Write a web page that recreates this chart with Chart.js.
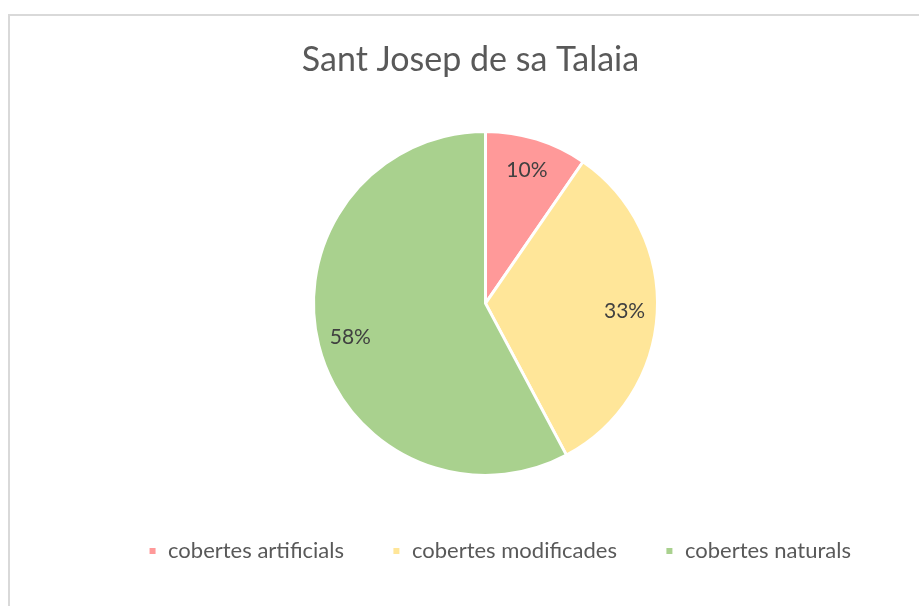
<!DOCTYPE html>
<html>
<head>
<meta charset="utf-8">
<script src="https://cdn.jsdelivr.net/npm/chart.js@4/dist/chart.umd.min.js"></script>
<style>
  html, body { margin: 0; padding: 0; background: #fff; }
  #frame {
    position: absolute; left: 8px; top: 14px; width: 920px; height: 600px;
    border-left: 2px solid #d9d9d9; border-top: 2px solid #d9d9d9;
  }
  #wrap { position: absolute; left: 0; top: 0; width: 919px; height: 606px; }
</style>
</head>
<body>
<div id="frame"></div>
<div id="wrap"><canvas id="pie-chart"></canvas></div>
<script>
// ---------------------- DATA -------------------------
const chartTitle = 'Sant Josep de sa Talaia';
const coverLabels = ['cobertes artificials', 'cobertes modificades', 'cobertes naturals'];
const coverShares = [9.6, 32.6, 57.8];
const sliceColors = ['#FF9999', '#FFE699', '#A9D18E'];

const fontName = 'Lato, "Open Sans", sans-serif';

// percent labels inside each slice (no datalabels plugin available)
const percentLabels = {
      id: 'percentLabels',
      afterDatasetsDraw(chart) {
            const ctx = chart.ctx;
            const meta = chart.getDatasetMeta(0);
            const data = chart.data.datasets[0].data;
            const total = data.reduce((a, b) => a + b, 0);
            ctx.save();
            ctx.font = '21px ' + fontName;
            ctx.fillStyle = '#404040';
            ctx.textAlign = 'center';
            ctx.textBaseline = 'middle';
            meta.data.forEach((arc, i) => {
                  const mid = (arc.startAngle + arc.endAngle) / 2;
                  const r = arc.outerRadius * 0.81;
                  const x = arc.x + Math.cos(mid) * r;
                  const y = arc.y + Math.sin(mid) * r;
                  ctx.fillText(Math.round(data[i] / total * 100) + '%', x, y);
            });
            ctx.restore();
      }
};

// title sits a bit left of the pie, legend a bit right (like the excel original)
const nudgeBoxes = {
      id: 'nudgeBoxes',
      afterLayout(chart) {
            chart.titleBlock.left -= 15;
            chart.titleBlock.right -= 15;
            chart.legend.left += 14;
            chart.legend.right += 14;
      }
};

const ctx = document.getElementById('pie-chart').getContext('2d');

new Chart(ctx, {
      type: 'pie',
      data: {
            labels: coverLabels,
            datasets: [{
                  data: coverShares,
                  backgroundColor: sliceColors,
                  borderColor: '#ffffff',
                  borderWidth: 3,
                  radius: 172
            }]
      },
      options: {
            responsive: true,
            maintainAspectRatio: false,
            animation: false,
            layout: { padding: { left: 52, right: 0, top: 0, bottom: 34 } },
            plugins: {
                  title: {
                        display: true,
                        text: chartTitle,
                        color: '#595959',
                        font: { family: fontName, size: 34, weight: 'normal', lineHeight: 1.2 },
                        padding: { top: 40, bottom: 34 }
                  },
                  legend: {
                        display: true,
                        position: 'bottom',
                        labels: {
                              boxWidth: 9,
                              boxHeight: 9,
                              padding: 48,
                              color: '#595959',
                              font: { family: fontName, size: 22 }
                        }
                  },
                  tooltip: { enabled: false }
            }
      },
      plugins: [percentLabels, nudgeBoxes]
});
</script>
</body>
</html>
